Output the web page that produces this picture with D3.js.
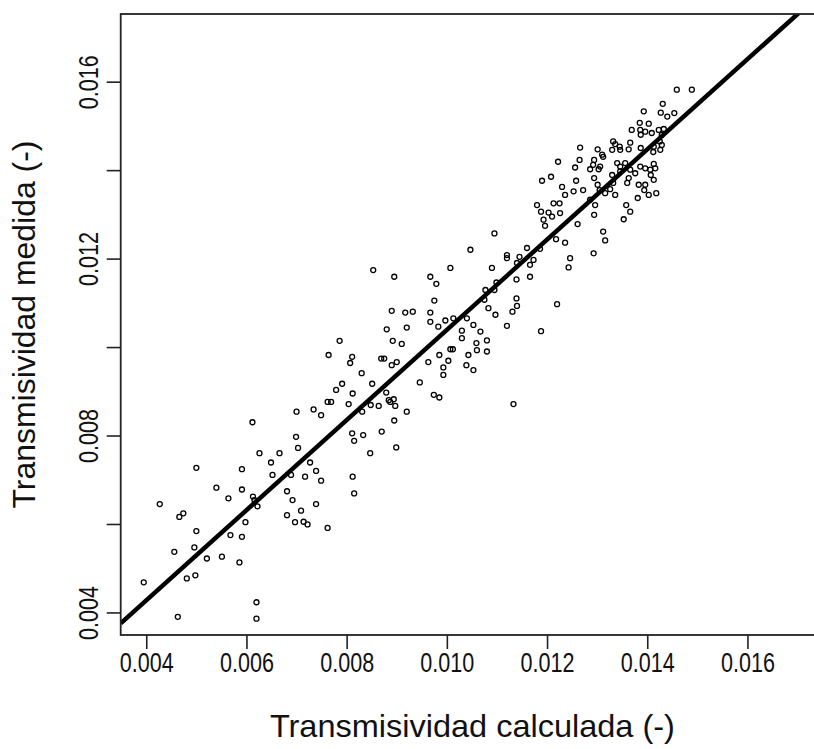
<!DOCTYPE html>
<html><head><meta charset="utf-8">
<script src="https://cdn.jsdelivr.net/npm/d3@7"></script>
<style>html,body{margin:0;padding:0;background:#fff;} svg{display:block;}</style>
</head><body>
<svg id="chart" width="814" height="749"></svg>
<script>
const calculada = [
0.01459,0.01489,0.01431,0.01393,0.01427,0.01440,0.01454,0.01385,0.01403,0.01369,
0.01386,0.01396,0.01387,0.01409,0.01423,0.01433,0.01429,0.01266,0.01301,0.01310,
0.01332,0.01336,0.01345,0.01330,0.01346,0.01363,0.01366,0.01387,0.01413,0.01426,
0.01429,0.01425,0.01222,0.01265,0.01256,0.01294,0.01292,0.01306,0.01286,0.01303,
0.01312,0.01340,0.01346,0.01356,0.01366,0.01386,0.01396,0.01406,0.01413,0.01416,
0.01190,0.01208,0.01230,0.01236,0.01253,0.01258,0.01272,0.01294,0.01301,0.01305,
0.01316,0.01326,0.01336,0.01332,0.01330,0.01346,0.01360,0.01363,0.01376,0.01383,
0.01396,0.01394,0.01407,0.01413,0.01418,0.01403,0.01381,0.01180,0.01188,0.01203,
0.01213,0.01225,0.01226,0.01193,0.01196,0.01210,0.01286,0.01296,0.01294,0.01261,
0.01358,0.01366,0.01353,0.01312,0.01316,0.01218,0.01236,0.01160,0.01293,0.01246,
0.01243,0.01173,0.01166,0.01166,0.01186,0.01412,0.01095,0.01047,0.01007,0.00853,
0.00895,0.00967,0.00979,0.00975,0.01090,0.01120,0.01120,0.01145,0.01140,0.01139,
0.01099,0.01095,0.01077,0.01139,0.01140,0.01131,0.01220,0.01075,0.01083,0.01097,
0.00890,0.00917,0.00932,0.00967,0.00967,0.00983,0.00997,0.01013,0.00880,0.00920,
0.01040,0.01053,0.01067,0.01030,0.01120,0.01188,0.01030,0.01059,0.01080,0.01060,
0.01080,0.01043,0.01039,0.01053,0.01007,0.01012,0.00985,0.01003,0.00993,0.00993,
0.00963,0.00946,0.00974,0.00985,0.01133,0.00920,0.00895,0.00870,0.00899,0.00786,
0.00764,0.00811,0.00807,0.00869,0.00875,0.00892,0.00910,0.00890,0.00900,0.00830,
0.00851,0.00779,0.00791,0.00812,0.00762,0.00769,0.00804,0.00879,0.00884,0.00894,
0.00897,0.00887,0.00864,0.00848,0.00734,0.00749,0.00831,0.00811,0.00833,0.00700,
0.00612,0.00815,0.00847,0.00699,0.00703,0.00626,0.00666,0.00649,0.00652,0.00689,
0.00727,0.00739,0.00749,0.00717,0.00500,0.00591,0.00540,0.00564,0.00591,0.00613,
0.00622,0.00616,0.00681,0.00692,0.00709,0.00739,0.00681,0.00697,0.00714,0.00722,
0.00762,0.00812,0.00815,0.00427,0.00466,0.00474,0.00500,0.00598,0.00568,0.00591,
0.00456,0.00496,0.00521,0.00551,0.00586,0.00395,0.00481,0.00498,0.00463,0.00620,
0.00620
];
const medida = [
0.01582,0.01582,0.01550,0.01533,0.01530,0.01521,0.01529,0.01507,0.01505,0.01491,
0.01491,0.01487,0.01480,0.01484,0.01491,0.01493,0.01480,0.01451,0.01447,0.01435,
0.01465,0.01459,0.01453,0.01446,0.01446,0.01447,0.01462,0.01450,0.01453,0.01446,
0.01457,0.01465,0.01419,0.01423,0.01406,0.01423,0.01412,0.01408,0.01402,0.01402,
0.01430,0.01416,0.01408,0.01416,0.01401,0.01408,0.01404,0.01401,0.01414,0.01404,
0.01376,0.01385,0.01362,0.01344,0.01352,0.01376,0.01355,0.01382,0.01367,0.01355,
0.01348,0.01357,0.01344,0.01371,0.01389,0.01397,0.01371,0.01382,0.01393,0.01367,
0.01367,0.01355,0.01389,0.01378,0.01348,0.01344,0.01337,0.01321,0.01306,0.01304,
0.01325,0.01325,0.01303,0.01288,0.01274,0.01295,0.01333,0.01321,0.01299,0.01278,
0.01321,0.01306,0.01289,0.01261,0.01241,0.01244,0.01236,0.01224,0.01212,0.01201,
0.01180,0.01197,0.01186,0.01159,0.01222,0.01441,0.01257,0.01220,0.01179,0.01174,
0.01159,0.01159,0.01143,0.01105,0.01179,0.01208,0.01201,0.01204,0.01190,0.01153,
0.01146,0.01129,0.01129,0.01110,0.01093,0.01080,0.01097,0.01107,0.01088,0.01073,
0.01082,0.01078,0.01080,0.01078,0.01057,0.01046,0.01060,0.01065,0.01040,0.01044,
0.01065,0.01050,0.01035,0.01037,0.01048,0.01036,0.01020,0.01009,0.01015,0.00993,
0.00990,0.00982,0.00959,0.00948,0.00995,0.00995,0.00982,0.00969,0.00954,0.00937,
0.00966,0.00920,0.00892,0.00886,0.00871,0.00854,0.00834,0.00809,0.00773,0.01014,
0.00982,0.00978,0.00964,0.00974,0.00974,0.01014,0.01007,0.00959,0.00966,0.00941,
0.00917,0.00903,0.00917,0.00895,0.00876,0.00876,0.00871,0.00897,0.00880,0.00882,
0.00867,0.00876,0.00867,0.00869,0.00859,0.00846,0.00854,0.00805,0.00801,0.00854,
0.00830,0.00788,0.00760,0.00797,0.00772,0.00760,0.00760,0.00739,0.00711,0.00711,
0.00739,0.00720,0.00698,0.00707,0.00727,0.00724,0.00682,0.00658,0.00678,0.00662,
0.00640,0.00654,0.00674,0.00654,0.00630,0.00645,0.00620,0.00604,0.00605,0.00599,
0.00591,0.00707,0.00669,0.00645,0.00616,0.00624,0.00584,0.00604,0.00575,0.00571,
0.00537,0.00547,0.00522,0.00526,0.00513,0.00468,0.00477,0.00484,0.00390,0.00423,
0.00386
];
const xTickValues = [0.004,0.006,0.008,0.010,0.012,0.014,0.016];
const xTickLabels = ["0.004","0.006","0.008","0.010","0.012","0.014","0.016"];
const yTickValues = [0.004,0.006,0.008,0.010,0.012,0.014,0.016];
const yTickLabels = ["0.004","","0.008","","0.012","","0.016"];
const axisDomain = [0.00349, 0.01753];
const fitIntercept = 0.000194;
const fitSlope = 1.0196;
const xTitle = "Transmisividad calculada (-)";
const yTitle = "Transmisividad medida (-)";

const W = 814, H = 749;
const plot = {left:120.7, right:824.1, top:14, bottom:635};
const FONT = "'Liberation Sans Narrow','Arial Narrow','Liberation Sans',Arial,sans-serif";
const svg = d3.select("#chart");
svg.append("rect").attr("width",W).attr("height",H).attr("fill","#fff");

const x = d3.scaleLinear().domain(axisDomain).range([plot.left, plot.right]);
const y = d3.scaleLinear().domain(axisDomain).range([plot.bottom, plot.top]);

svg.append("defs").append("clipPath").attr("id","clip")
  .append("rect").attr("x",plot.left).attr("y",plot.top)
  .attr("width",plot.right-plot.left).attr("height",plot.bottom-plot.top);

const pts = d3.zip(calculada, medida);
svg.append("g").attr("clip-path","url(#clip)")
  .selectAll("circle").data(pts).join("circle")
  .attr("cx",d=>x(d[0])).attr("cy",d=>y(d[1])).attr("r",2.5)
  .attr("fill","none").attr("stroke","#000").attr("stroke-width",1.3);

const lineData = axisDomain.map(v=>[v, fitIntercept + fitSlope*v]);
svg.append("g").attr("clip-path","url(#clip)").append("path")
  .datum(lineData)
  .attr("d", d3.line().x(d=>x(d[0])).y(d=>y(d[1])))
  .attr("fill","none").attr("stroke","#000").attr("stroke-width",4.5);

svg.append("rect").attr("x",plot.left).attr("y",plot.top)
  .attr("width",plot.right-plot.left).attr("height",plot.bottom-plot.top)
  .attr("fill","none").attr("stroke","#222").attr("stroke-width",1.8);

// x axis
const gx = svg.append("g").attr("transform",`translate(0,${plot.bottom})`)
  .call(d3.axisBottom(x).tickValues(xTickValues).tickFormat((d,i)=>xTickLabels[i]).tickSize(14).tickPadding(4));
gx.select(".domain").remove();
gx.selectAll(".tick line").attr("stroke","#222").attr("stroke-width",1.6);
gx.selectAll(".tick text").attr("font-family",FONT).attr("font-size",27).attr("fill","#111")
  .attr("textLength",54).attr("lengthAdjust","spacingAndGlyphs");

// y axis
const gy = svg.append("g").attr("transform",`translate(${plot.left},0)`)
  .call(d3.axisLeft(y).tickValues(yTickValues).tickFormat((d,i)=>yTickLabels[i]).tickSize(14));
gy.select(".domain").remove();
gy.selectAll(".tick line").attr("stroke","#222").attr("stroke-width",1.6);
gy.selectAll(".tick text")
  .attr("x",null).attr("dy",null).attr("text-anchor","middle")
  .attr("transform","translate(-22.7,0) rotate(-90)")
  .attr("font-family",FONT).attr("font-size",27).attr("fill","#111")
  .attr("textLength",(d,i)=>yTickLabels[i] ? 54 : null).attr("lengthAdjust","spacingAndGlyphs");

// titles
svg.append("text").attr("x",(plot.left+plot.right)/2).attr("y",737)
  .attr("text-anchor","middle").attr("font-family",FONT).attr("font-size",32).attr("fill","#111")
  .attr("textLength",405).attr("lengthAdjust","spacingAndGlyphs").text(xTitle);
svg.append("text").attr("transform",`translate(35,${(plot.top+plot.bottom)/2}) rotate(-90)`)
  .attr("text-anchor","middle").attr("font-family",FONT).attr("font-size",32).attr("fill","#111")
  .attr("textLength",368).attr("lengthAdjust","spacingAndGlyphs").text(yTitle);
</script>
</body></html>
